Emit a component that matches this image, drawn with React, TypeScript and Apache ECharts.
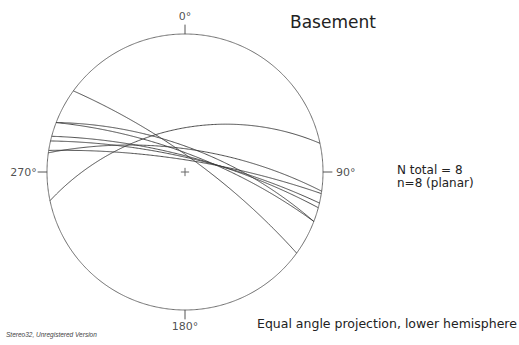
import React, { useEffect, useRef } from "react";
import * as echarts from "echarts";

// Planes: dip direction (deg) and dip (deg)
const planeIds = ["1", "2", "3", "4", "5", "6", "7", "8"];
const dipDirections = [36, 348, 21, 21, 15, 13, 9, 8];
const dips = [78, 55, 70, 75, 77, 78, 80, 71];

const cardinalAzimuths = [0, 90, 180, 270];
const cardinalLabels = ["0°", "90°", "180°", "270°"];

const titleText = "Basement";
const statLines = ["N total = 8", "n=8 (planar)"];
const projectionText = "Equal angle projection, lower hemisphere";
const footerText = "Stereo32, Unregistered Version";

const rad = (d: number) => (d * Math.PI) / 180;
const EXT = 1.2;

function greatCircle(dd: number, dip: number): number[][] {
  const s = rad(dd - 90);
  const d = rad(dip);
  const a = rad(dd);
  const S = [Math.sin(s), Math.cos(s), 0];
  const D = [Math.cos(d) * Math.sin(a), Math.cos(d) * Math.cos(a), Math.sin(d)];
  const pts: number[][] = [];
  for (let i = 0; i <= 360; i++) {
    const t = (i * Math.PI) / 360;
    const v = [0, 1, 2].map((k) => S[k] * Math.cos(t) + D[k] * Math.sin(t));
    const den = 1 + v[2];
    pts.push([v[0] / den, v[1] / den]);
  }
  return pts;
}

function primitive(): number[][] {
  const pts: number[][] = [];
  for (let i = 0; i <= 720; i++) {
    const t = (i * Math.PI) / 360;
    pts.push([Math.sin(t), Math.cos(t)]);
  }
  return pts;
}

export default function App() {
  const ref = useRef<HTMLDivElement>(null);
  useEffect(() => {
    if (!ref.current) return;
    const chart = echarts.init(ref.current, null, { renderer: "svg" });

    const tickSeries = cardinalAzimuths.map((az) => ({
      type: "line",
      data: [
        [Math.sin(rad(az)), Math.cos(rad(az))],
        [1.068 * Math.sin(rad(az)), 1.068 * Math.cos(rad(az))],
      ],
      showSymbol: false,
      lineStyle: { color: "#555", width: 1 },
    }));

    const labelPos: any[] = [
      { r: 1.125, align: "center" },
      { r: 1.095, align: "left" },
      { r: 1.118, align: "center" },
      { r: 1.075, align: "right" },
    ];
    const labelData = cardinalAzimuths.map((az, i) => ({
      value: [labelPos[i].r * Math.sin(rad(az)), labelPos[i].r * Math.cos(rad(az))],
      label: {
        show: true,
        formatter: cardinalLabels[i],
        position: "inside",
        align: labelPos[i].align,
        verticalAlign: "middle",
        color: "#222",
        fontSize: 11,
        fontFamily: "DejaVu Sans",
      },
    }));

    const c = 0.03;
    const crossSeries = [
      [[-c, 0], [c, 0]],
      [[0, -c], [0, c]],
    ].map((d) => ({
      type: "line",
      data: d,
      showSymbol: false,
      lineStyle: { color: "#666", width: 1 },
    }));

    const series: any[] = [
      {
        type: "line",
        data: primitive(),
        showSymbol: false,
        lineStyle: { color: "#707070", width: 1 },
        silent: true,
      },
      ...tickSeries,
      ...crossSeries,
      ...planeIds.map((id, i) => ({
        type: "line",
        name: "Plane " + id,
        data: greatCircle(dipDirections[i], dips[i]),
        showSymbol: false,
        lineStyle: { color: "#3a3a3a", width: 0.9 },
      })),
      {
        type: "scatter",
        data: labelData,
        symbolSize: 1,
        itemStyle: { color: "rgba(0,0,0,0)" },
      },
    ];

    const R = 138;
    chart.setOption({
      animation: false,
      backgroundColor: "#ffffff",
      grid: { left: 185 - R * EXT, top: 172 - R * EXT, width: 2 * R * EXT, height: 2 * R * EXT },
      xAxis: { type: "value", min: -EXT, max: EXT, show: false },
      yAxis: { type: "value", min: -EXT, max: EXT, show: false },
      series,
      graphic: [
        {
          type: "text",
          left: 290,
          top: 13,
          style: { text: titleText, fontSize: 17, fontFamily: "DejaVu Sans", fill: "#222" },
        },
        {
          type: "text",
          left: 397,
          top: 163.5,
          style: { text: statLines[0], fontSize: 12, fontFamily: "DejaVu Sans", fill: "#222" },
        },
        {
          type: "text",
          left: 397,
          top: 176.5,
          style: { text: statLines[1], fontSize: 12, fontFamily: "DejaVu Sans", fill: "#222" },
        },
        {
          type: "text",
          left: 257,
          top: 317,
          style: { text: projectionText, fontSize: 12.5, fontFamily: "DejaVu Sans", fill: "#222" },
        },
        {
          type: "text",
          left: 6,
          top: 331,
          style: {
            text: footerText,
            fontSize: 6.5,
            fontStyle: "italic",
            fontFamily: "Liberation Sans",
            fill: "#444",
          },
        },
      ],
    });
    return () => chart.dispose();
  }, []);
  return (
    <div
      ref={ref}
      style={{ position: "fixed", left: 0, top: 0, width: 519, height: 345, background: "#fff" }}
    />
  );
}
